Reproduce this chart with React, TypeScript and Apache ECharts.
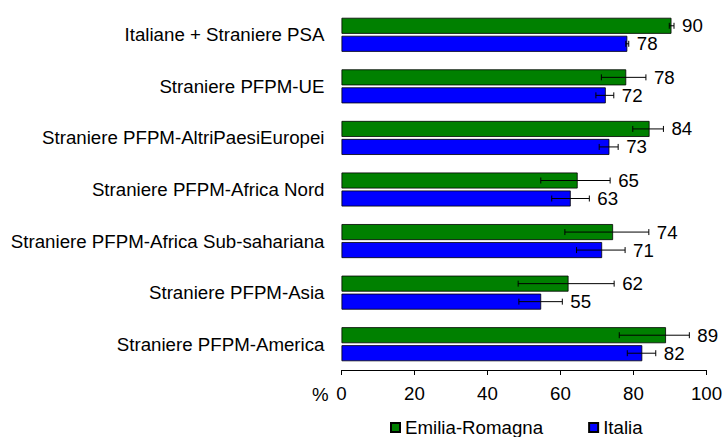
import React, { useEffect, useRef } from "react";
import * as echarts from "echarts";

const categories = [
  "Italiane + Straniere PSA",
  "Straniere PFPM-UE",
  "Straniere PFPM-AltriPaesiEuropei",
  "Straniere PFPM-Africa Nord",
  "Straniere PFPM-Africa Sub-sahariana",
  "Straniere PFPM-Asia",
  "Straniere PFPM-America",
];
const emiliaValues = [90.4, 78.0, 84.4, 64.7, 74.4, 62.2, 88.9];
const emiliaLow = [89.8, 71.2, 79.8, 54.6, 61.2, 48.4, 76.1];
const emiliaHigh = [91.1, 83.4, 88.2, 73.6, 84.2, 74.7, 95.3];
const italiaValues = [78.3, 72.4, 73.4, 62.8, 71.4, 54.7, 82.4];
const italiaLow = [77.9, 69.7, 70.6, 57.6, 64.4, 48.6, 78.3];
const italiaHigh = [78.7, 74.6, 75.8, 67.9, 77.7, 60.5, 86.1];
const xTicks = [0, 20, 40, 60, 80, 100];

const FONT = "'Liberation Sans', Arial, sans-serif";
const FS = 18.7;

function errorSeries(name: string, vals: number[], lo: number[], hi: number[], offset: number) {
  return {
    type: "custom",
    name,
    z: 5,
    data: vals.map((v, i) => [i, lo[i], hi[i], v]),
    encode: { x: [1, 2], y: 0 },
    renderItem: (params: any, api: any) => {
      const ci = api.value(0);
      const p1 = api.coord([api.value(1), ci]);
      const p2 = api.coord([api.value(2), ci]);
      const y = p1[1] + offset;
      const st = { stroke: "#000", lineWidth: 1 };
      return {
        type: "group",
        children: [
          { type: "line", shape: { x1: p1[0], y1: y, x2: p2[0], y2: y }, style: st },
          { type: "line", shape: { x1: p1[0], y1: y - 3, x2: p1[0], y2: y + 3 }, style: st },
          { type: "line", shape: { x1: p2[0], y1: y - 3, x2: p2[0], y2: y + 3 }, style: st },
          {
            type: "text",
            style: {
              x: p2[0] + 8,
              y: y,
              text: String(Math.round(api.value(3))),
              fill: "#000",
              fontSize: FS,
              fontFamily: FONT,
              align: "left",
              verticalAlign: "middle",
            },
          },
        ],
      };
    },
  };
}

export default function App() {
  const ref = useRef<HTMLDivElement>(null);
  useEffect(() => {
    const chart = echarts.init(ref.current!, undefined, { renderer: "svg" });
    chart.setOption({
      animation: false,
      textStyle: { fontFamily: FONT },
      grid: { left: 341.5, right: 19.5, top: 9, bottom: 67, containLabel: false },
      xAxis: {
        type: "value",
        min: 0,
        max: 100,
        interval: 20,
        axisLine: { show: true, lineStyle: { color: "#000", width: 1 } },
        axisTick: { show: true, length: 5, lineStyle: { color: "#000" } },
        axisLabel: {
          color: "#000",
          fontSize: FS,
          fontFamily: FONT,
          margin: 14,
          formatter: (v: number) => (xTicks.includes(v) ? String(v) : ""),
        },
        splitLine: { show: false },
      },
      yAxis: {
        type: "category",
        data: categories,
        inverse: true,
        axisLine: { show: false },
        axisTick: { show: false },
        axisLabel: { color: "#000", fontSize: FS, fontFamily: FONT, margin: 17 },
        splitLine: { show: false },
      },
      legend: {
        data: ["Emilia-Romagna", "Italia"],
        left: 385,
        top: 413,
        itemWidth: 9,
        itemHeight: 9,
        itemGap: 45,
        icon: "rect",
        textStyle: { color: "#000", fontSize: FS, fontFamily: FONT },
      },
      graphic: [
        {
          type: "text",
          left: 312,
          top: 385,
          style: { text: "%", fill: "#000", fontSize: FS, fontFamily: FONT },
        },
      ],
      series: [
        {
          type: "bar",
          name: "Emilia-Romagna",
          data: emiliaValues,
          barWidth: 16,
          barGap: "12.5%",
          itemStyle: { color: "#008000", borderColor: "#000", borderWidth: 0.8 },
        },
        {
          type: "bar",
          name: "Italia",
          data: italiaValues,
          barWidth: 16,
          barGap: "12.5%",
          itemStyle: { color: "#0000FF", borderColor: "#000", borderWidth: 0.8 },
        },
        errorSeries("errE", emiliaValues, emiliaLow, emiliaHigh, -9),
        errorSeries("errI", italiaValues, italiaLow, italiaHigh, 9),
      ],
    });
    return () => chart.dispose();
  }, []);
  return (
    <div
      ref={ref}
      style={{ position: "fixed", left: 0, top: 0, width: 726, height: 437, background: "#fff" }}
    />
  );
}
